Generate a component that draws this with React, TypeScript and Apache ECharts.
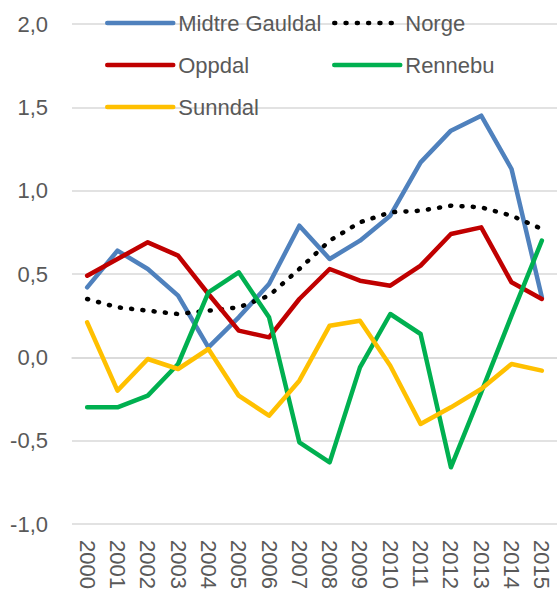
import React, { useEffect, useRef } from "react";
import * as echarts from "echarts";

const years = ["2000","2001","2002","2003","2004","2005","2006","2007","2008","2009","2010","2011","2012","2013","2014","2015"];
const midtreGauldal = [0.42,0.64,0.53,0.37,0.06,0.24,0.44,0.79,0.59,0.70,0.85,1.17,1.36,1.45,1.13,0.36];
const norge = [0.35,0.30,0.28,0.26,0.28,0.30,0.37,0.53,0.70,0.81,0.87,0.88,0.91,0.90,0.85,0.77];
const oppdal = [0.49,0.59,0.69,0.61,0.38,0.16,0.12,0.35,0.53,0.46,0.43,0.55,0.74,0.78,0.45,0.35];
const rennebu = [-0.30,-0.30,-0.23,-0.04,0.39,0.51,0.24,-0.51,-0.63,-0.06,0.26,0.14,-0.66,-0.21,0.25,0.70];
const sunndal = [0.21,-0.20,-0.01,-0.07,0.05,-0.23,-0.35,-0.14,0.19,0.22,-0.05,-0.40,-0.30,-0.19,-0.04,-0.08];

const FONT = "'Liberation Sans', Arial, sans-serif";
const TXT = "#595959";

export default function App() {
  const ref = useRef<HTMLDivElement>(null);
  useEffect(() => {
    if (!ref.current) return;
    const chart = echarts.init(ref.current, undefined, { renderer: "svg" });
    const lineSeries = (name: string, data: number[], color: string, dotted = false) => ({
      name,
      type: "line",
      data,
      symbol: "none",
      color,
      lineStyle: dotted
        ? { color, width: 4.5, type: [1, 10.3], cap: "round" }
        : { color, width: 4.5, cap: "round", join: "round" },
    });
    const legendBase = (name: string, left: number, top: number) => ({
      data: [name],
      left,
      top,
      padding: 0,
      itemWidth: 66,
      itemHeight: 14,
      itemStyle: { opacity: 0 },
      lineStyle: { width: 4.5, cap: "round" },
      textStyle: { fontSize: 22, color: TXT, fontFamily: FONT },
      selectedMode: false,
    });
    chart.setOption({
      animation: false,
      textStyle: { fontFamily: FONT },
      grid: { left: 72, top: 24, width: 494, bottom: 68, containLabel: false },
      legend: [
        legendBase("Midtre Gauldal", 105, 12),
        legendBase("Norge", 332, 12),
        legendBase("Oppdal", 105, 54),
        legendBase("Rennebu", 332, 54),
        legendBase("Sunndal", 105, 96),
      ],
      xAxis: {
        type: "category",
        data: years,
        boundaryGap: true,
        axisLine: { show: true, lineStyle: { color: "#D9D9D9", width: 1.5 } },
        axisTick: { show: false },
        axisLabel: { rotate: -90, fontSize: 22, color: TXT, margin: 16, fontFamily: FONT, interval: 0 },
      },
      yAxis: {
        type: "value",
        min: -1,
        max: 2,
        interval: 0.5,
        axisLine: { show: false },
        axisTick: { show: false },
        axisLabel: {
          fontSize: 22,
          color: TXT,
          margin: 24,
          fontFamily: FONT,
          formatter: (v: number) => v.toFixed(1).replace(".", ","),
        },
        splitLine: { lineStyle: { color: "#D9D9D9", width: 1.5 } },
      },
      series: [
        lineSeries("Midtre Gauldal", midtreGauldal, "#4F81BD"),
        lineSeries("Norge", norge, "#000000", true),
        lineSeries("Oppdal", oppdal, "#C00000"),
        lineSeries("Rennebu", rennebu, "#00B050"),
        lineSeries("Sunndal", sunndal, "#FFC000"),
      ],
    });
    return () => chart.dispose();
  }, []);
  return <div ref={ref} style={{ width: 557, height: 592, position: "absolute", left: 0, top: 0 }} />;
}
